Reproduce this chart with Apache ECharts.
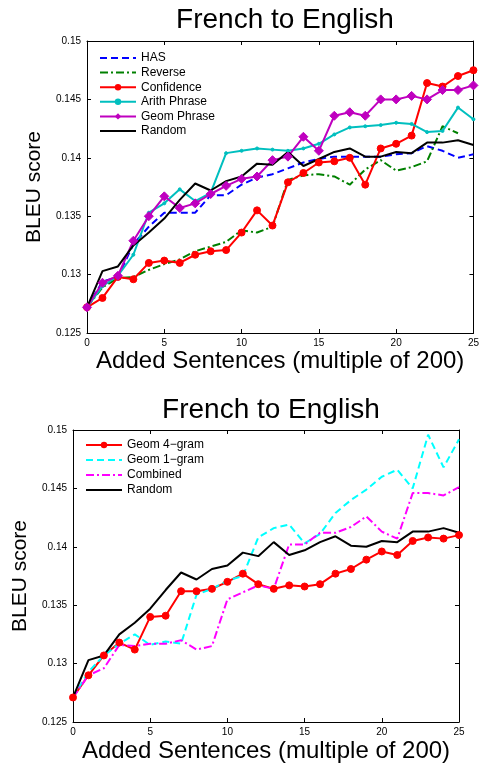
<!DOCTYPE html>
<html>
<head>
<meta charset="utf-8">
<script src="https://cdn.jsdelivr.net/npm/echarts@6/dist/echarts.min.js"></script>
<style>
  html, body { margin: 0; padding: 0; background: #fff; }
  #chart { width: 482px; height: 766px; }
</style>
</head>
<body>
<div id="chart"></div>
<script>
// x positions (added sentences, multiples of 200)
var steps = [0,1,2,3,4,5,6,7,8,9,10,11,12,13,14,15,16,17,18,19,20,21,22,23,24,25];
var yTicks = [0.125, 0.13, 0.135, 0.14, 0.145, 0.15];

// top plot
var has        = [0.1272,0.1294,0.1298,0.1326,0.1341,0.1353,0.1353,0.1353,0.1368,0.1368,0.1377,0.1383,0.1386,0.1391,0.1396,0.1399,0.1401,0.1401,0.1401,0.1401,0.1403,0.1404,0.1410,0.1406,0.1400,0.1403];
var reverse    = [0.1272,0.1289,0.1297,0.1298,0.1304,0.1309,0.1313,0.1320,0.1324,0.1328,0.1338,0.1336,0.1341,0.1381,0.1385,0.1386,0.1384,0.1377,0.1390,0.1398,0.1389,0.1392,0.1397,0.1427,0.1421,null];
var confidence = [0.1272,0.1280,0.1298,0.1296,0.1310,0.1312,0.1310,0.1317,0.1320,0.1321,0.1336,0.1355,0.1342,0.1379,0.1387,0.1396,0.1397,0.1400,0.1377,0.1408,0.1412,0.1419,0.1464,0.1461,0.1470,0.1475];
var arithPhr   = [0.1272,0.1290,0.1299,0.1317,0.1353,0.1361,0.1373,0.1363,0.1370,0.1404,0.1406,0.1408,0.1407,0.1406,0.1408,0.1412,0.1420,0.1426,0.1427,0.1428,0.1430,0.1429,0.1422,0.1423,0.1443,0.1433];
var geomPhr    = [0.1272,0.1293,0.1299,0.1329,0.1350,0.1367,0.1357,0.1361,0.1369,0.1376,0.1382,0.1384,0.1398,0.1401,0.1418,0.1406,0.1436,0.1439,0.1436,0.1450,0.1450,0.1453,0.1450,0.1458,0.1458,0.1462];
var randomTop  = [0.1272,0.1303,0.1307,0.1325,0.1336,0.1348,0.1364,0.1378,0.1372,0.1380,0.1384,0.1395,0.1394,0.1405,0.1393,0.1399,0.1405,0.1408,0.1401,0.1401,0.1405,0.1404,0.1413,0.1413,0.1415,0.1411];

// bottom plot
var geom4      = [0.1271,0.1290,0.1307,0.1318,0.1312,0.1340,0.1341,0.1362,0.1362,0.1364,0.1370,0.1377,0.1368,0.1364,0.1367,0.1366,0.1368,0.1377,0.1381,0.1389,0.1396,0.1393,0.1405,0.1408,0.1407,0.1410];
var geom1      = [0.1271,0.1293,0.1307,0.1317,0.1325,0.1316,0.1319,0.1317,0.1359,0.1364,0.1371,0.1375,0.1408,0.1416,0.1419,0.1403,0.1411,0.1429,0.1440,0.1449,0.1460,0.1466,0.1450,0.1496,0.1468,0.1492];
var combined   = [0.1271,0.1290,0.1296,0.1316,0.1315,0.1317,0.1317,0.1320,0.1312,0.1315,0.1355,0.1361,0.1367,0.1364,0.1402,0.1402,0.1412,0.1412,0.1417,0.1426,0.1413,0.1407,0.1446,0.1446,0.1444,0.1451];
var randomBot  = [0.1271,0.1303,0.1307,0.1325,0.1335,0.1347,0.1363,0.1378,0.1372,0.1381,0.1384,0.1395,0.1392,0.1404,0.1393,0.1397,0.1404,0.1409,0.1401,0.1400,0.1405,0.1404,0.1413,0.1413,0.1416,0.1412];

var FONT = '"Liberation Sans", Arial, sans-serif';

function pairs(vals) {
    return steps.map(function (s, i) { return [s, vals[i]]; });
}

function xAxes(gi) {
    return [{
        gridIndex: gi, type: 'value', min: 0, max: 25, interval: 5,
        name: 'Added Sentences (multiple of 200)', nameLocation: 'middle', nameGap: gi ? 17 : 12,
        nameTextStyle: {fontSize: 24, fontFamily: FONT, color: '#000'},
        axisLine: {onZero: false, lineStyle: {color: '#000', width: 1}},
        axisTick: {inside: true, length: 4, lineStyle: {color: '#000'}},
        axisLabel: {fontSize: 10, fontFamily: FONT, color: '#000', margin: 5},
        splitLine: {show: false}
    }, {
        gridIndex: gi, type: 'value', min: 0, max: 25, interval: 5, position: 'top',
        axisLine: {onZero: false, lineStyle: {color: '#000', width: 1}},
        axisTick: {inside: true, length: 4, lineStyle: {color: '#000'}},
        axisLabel: {show: false}, splitLine: {show: false}
    }];
}

function yAxes(gi) {
    return [{
        gridIndex: gi, type: 'value', min: 0.125, max: 0.15, interval: 0.005,
        name: 'BLEU score', nameLocation: 'middle', nameGap: gi ? 40 : 38,
        nameTextStyle: {fontSize: 21, fontFamily: FONT, color: '#000'},
        axisLine: {show: true, onZero: false, lineStyle: {color: '#000', width: 1}},
        axisTick: {show: true, inside: true, length: 4, lineStyle: {color: '#000'}},
        axisLabel: {fontSize: 10, fontFamily: FONT, color: '#000', margin: 6,
            formatter: function (v) { return yTicks.indexOf(+v.toFixed(3)) >= 0 ? String(+v.toFixed(3)) : ''; }},
        splitLine: {show: false}
    }, {
        gridIndex: gi, type: 'value', min: 0.125, max: 0.15, interval: 0.005, position: 'right',
        axisLine: {show: true, onZero: false, lineStyle: {color: '#000', width: 1}},
        axisTick: {show: true, inside: true, length: 4, lineStyle: {color: '#000'}},
        axisLabel: {show: false}, splitLine: {show: false}
    }];
}

function line(name, vals, color, opts) {
    return {
        name: name, type: 'line', data: pairs(vals),
        xAxisIndex: opts.grid * 2, yAxisIndex: opts.grid * 2,
        symbol: opts.symbol || 'none', symbolSize: opts.size || 0,
        showSymbol: !!opts.symbol, connectNulls: false,
        lineStyle: {color: color, width: 2, type: opts.dash || 'solid'},
        itemStyle: {color: color, borderColor: color},
        animation: false
    };
}

// legend entry; plain lines get no marker
function entry(name, marker) {
    return marker ? {name: name} : {name: name, itemStyle: {opacity: 0}};
}

var chart = echarts.init(document.getElementById('chart'));

var option = {
    backgroundColor: '#fff',
    animation: false,
    title: [
        {text: 'French to English', left: 280, top: 1, textAlign: 'center',
         textStyle: {fontSize: 28, fontWeight: 'normal', fontFamily: FONT, color: '#000'}},
        {text: 'French to English', left: 266, top: 391, textAlign: 'center',
         textStyle: {fontSize: 28, fontWeight: 'normal', fontFamily: FONT, color: '#000'}}
    ],
    grid: [
        {left: 87, top: 41, width: 387, height: 292},
        {left: 73, top: 430, width: 386, height: 292}
    ],
    legend: [
        {data: [entry('HAS'), entry('Reverse'), entry('Confidence', 1), entry('Arith Phrase', 1), entry('Geom Phrase', 1), entry('Random')],
         orient: 'vertical', left: 94, top: 47, itemWidth: 36, itemHeight: 8, itemGap: 2.6,
         textStyle: {fontSize: 12, fontFamily: FONT, color: '#000', lineHeight: 12}},
        {data: [entry('Geom 4\u2212gram', 1), entry('Geom 1\u2212gram'), entry('Combined'), entry('Random ')],
         orient: 'vertical', left: 80, top: 434, itemWidth: 36, itemHeight: 8, itemGap: 3,
         textStyle: {fontSize: 12, fontFamily: FONT, color: '#000', lineHeight: 12}}
    ],
    xAxis: xAxes(0).concat(xAxes(1)),
    yAxis: yAxes(0).concat(yAxes(1)),
    series: [
        line('HAS', has, '#0000ff', {grid: 0, dash: [7, 4]}),
        line('Reverse', reverse, '#008000', {grid: 0, dash: [8, 3, 2, 3]}),
        line('Confidence', confidence, '#ff0000', {grid: 0, symbol: 'circle', size: 7}),
        line('Arith Phrase', arithPhr, '#00bfbf', {grid: 0, symbol: 'circle', size: 3}),
        line('Geom Phrase', geomPhr, '#bf00bf', {grid: 0, symbol: 'diamond', size: 9}),
        line('Random', randomTop, '#000000', {grid: 0}),
        line('Geom 4\u2212gram', geom4, '#ff0000', {grid: 1, symbol: 'circle', size: 7}),
        line('Geom 1\u2212gram', geom1, '#00ffff', {grid: 1, dash: [7, 4]}),
        line('Combined', combined, '#ff00ff', {grid: 1, dash: [8, 3, 2, 3]}),
        line('Random ', randomBot, '#000000', {grid: 1})
    ]
};

chart.setOption(option);
</script>
</body>
</html>
